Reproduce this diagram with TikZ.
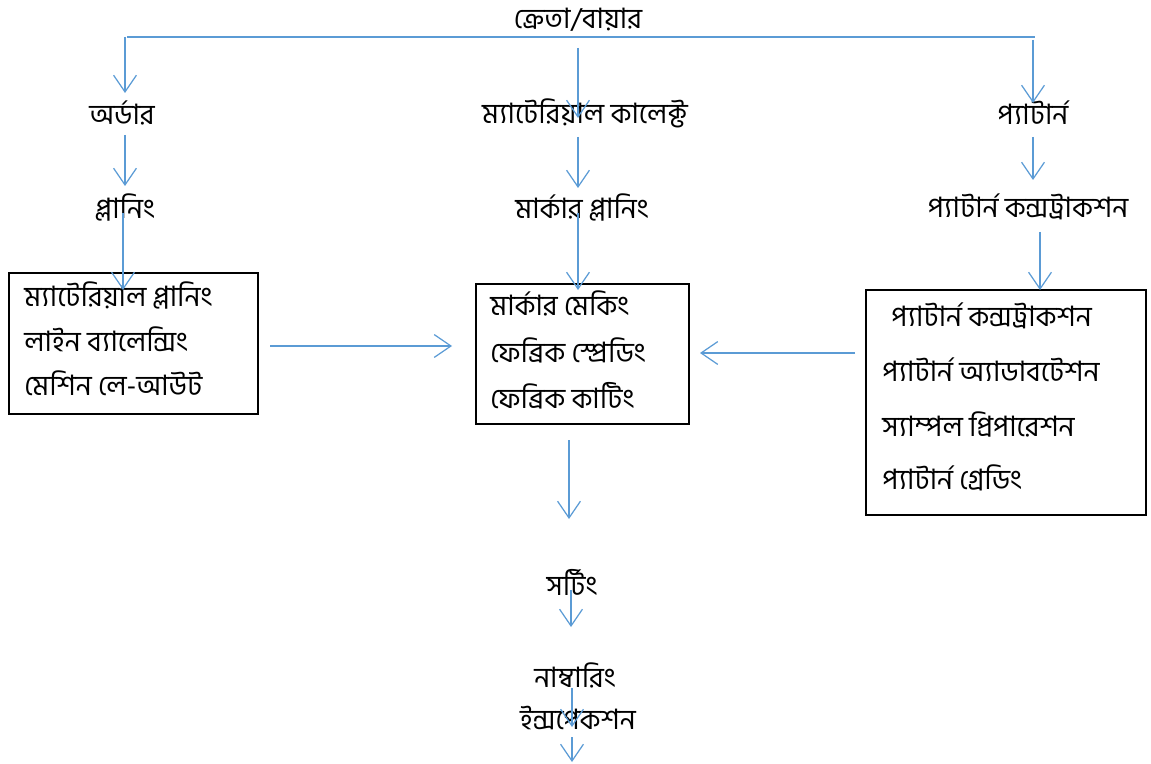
\documentclass[tikz,border=0pt]{standalone}
\usepackage{fontspec}
\usepackage{tikz}
\newfontfamily\bn[Script=Bengali]{Hind Siliguri}
\usetikzlibrary{arrows.meta,positioning,fit}
\definecolor{flowBlue}{RGB}{91,155,213}

\tikzset{
  lbl/.style={font=\bn\fontsize{16}{19}\selectfont, inner sep=0pt},
  item/.style={lbl, anchor=west},
  flow/.style={draw=flowBlue, line width=0.7pt, -{Straight Barb[length=9.5pt,width=13pt]}},
  boxst/.style={draw=black, line width=1.2pt, inner sep=0pt},
}

\begin{document}
\begin{tikzpicture}[x=0.02cm, y=-0.02cm]
\useasboundingbox (0,0) rectangle (1151,763);

% top level
\node[lbl] (buyer) at (578,20) {ক্রেতা/বায়ার};
\coordinate (busL) at (127,37);
\coordinate (busR) at (1035,37);
\draw[flowBlue, line width=0.9pt] (busL) -- (busR);

\node[lbl] (order) at (122,113) {অর্ডার};
\node[lbl] (matcol) at (585,113) {ম্যাটেরিয়াল কালেক্ট};
\node[lbl] (pattern) at (1033,113) {প্যাটার্ন};

\node[lbl] (plan) at (125,207) {প্লানিং};
\node[lbl] (markplan) at (582,207) {মার্কার প্লানিং};
\node[lbl] (patcons) at (1028,207) {প্যাটার্ন কন্সট্রাকশন};

% boxes
\node[boxst, fit={(9,273) (258,414)}] (planbox) {};
\node[item] (mp) at (24,295) {ম্যাটেরিয়াল প্লানিং};
\node[item] (lb) at (24,339) {লাইন ব্যালেন্সিং};
\node[item] (ml) at (24,383) {মেশিন লে-আউট};

\node[boxst, fit={(476,284) (689,424)}] (cutbox) {};
\node[item] (mm) at (490,303) {মার্কার মেকিং};
\node[item] (fs) at (490,350) {ফেব্রিক স্প্রেডিং};
\node[item] (fc) at (490,396) {ফেব্রিক কাটিং};

\node[boxst, fit={(866,290) (1146,515)}] (patbox) {};
\node[item] (pc) at (891,316) {প্যাটার্ন কন্সট্রাকশন};
\node[item] (pa) at (882,370) {প্যাটার্ন অ্যাডাবটেশন};
\node[item] (sp) at (882,424) {স্যাম্পল প্রিপারেশন};
\node[item] (pg) at (882,478) {প্যাটার্ন গ্রেডিং};

% bottom chain
\node[lbl] (sort) at (572,582) {সর্টিং};
\node[lbl] (numb) at (575,675) {নাম্বারিং};
\node[lbl] (insp) at (578,718) {ইন্সপেকশন};

% arrow ends
\coordinate (a1s) at (125,37);  \coordinate (a1e) at (125,93);
\coordinate (a2s) at (578,48);  \coordinate (a2e) at (578,118);
\coordinate (a3s) at (1033,40); \coordinate (a3e) at (1033,103);
\coordinate (b1s) at (125,135); \coordinate (b1e) at (125,186);
\coordinate (b2s) at (578,137); \coordinate (b2e) at (578,188);
\coordinate (b3s) at (1033,137); \coordinate (b3e) at (1033,180);
\coordinate (c1s) at (123,213); \coordinate (c1e) at (123,290);
\coordinate (c2s) at (578,213); \coordinate (c2e) at (578,290);
\coordinate (c3s) at (1040,232); \coordinate (c3e) at (1040,290);
\coordinate (h1s) at (270,346); \coordinate (h1e) at (452,346);
\coordinate (h2s) at (855,353); \coordinate (h2e) at (700,353);
\coordinate (d1s) at (569,440); \coordinate (d1e) at (569,519);
\coordinate (d2s) at (571,590); \coordinate (d2e) at (571,627);
\coordinate (d3s) at (572,688); \coordinate (d3e) at (572,727);
\coordinate (d4s) at (572,737); \coordinate (d4e) at (572,762);

\foreach \p in {a1,a2,a3,b1,b2,b3,c1,c2,c3,h1,h2,d1,d2,d3,d4}
  \draw[flow] (\p s) -- (\p e);
\end{tikzpicture}
\end{document}
